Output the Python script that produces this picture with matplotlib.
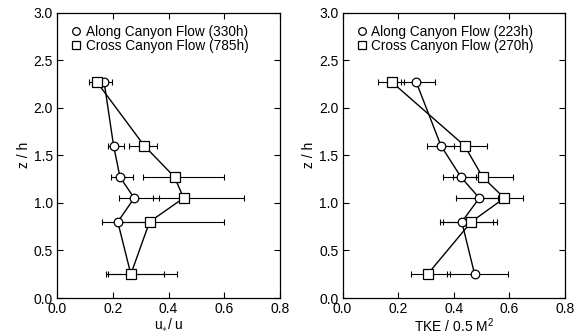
import matplotlib
matplotlib.use("Agg")
import matplotlib.pyplot as plt
import numpy as np

plt.rcParams['font.family'] = ['Liberation Sans', 'DejaVu Sans']
plt.rcParams['mathtext.fontset'] = 'custom'
plt.rcParams['mathtext.rm'] = 'Liberation Sans'
plt.rcParams['mathtext.it'] = 'Liberation Sans'

z = [0.25, 0.80, 1.05, 1.27, 1.60, 2.27]

# Left panel: u*/u
ustar_along = [0.265, 0.218, 0.277, 0.226, 0.203, 0.169]
ustar_along_lo = [0.184, 0.162, 0.224, 0.194, 0.182, 0.155]
ustar_along_hi = [0.385, 0.340, 0.367, 0.274, 0.241, 0.199]
ustar_cross = [0.265, 0.332, 0.454, 0.422, 0.313, 0.143]
ustar_cross_lo = [0.176, 0.220, 0.343, 0.307, 0.259, 0.115]
ustar_cross_hi = [0.432, 0.600, 0.670, 0.600, 0.360, 0.178]

# Right panel: TKE / 0.5 M^2
tke_along = [0.475, 0.429, 0.492, 0.426, 0.354, 0.265]
tke_along_lo = [0.377, 0.350, 0.408, 0.362, 0.305, 0.209]
tke_along_hi = [0.595, 0.540, 0.560, 0.480, 0.400, 0.334]
tke_cross = [0.306, 0.463, 0.582, 0.504, 0.439, 0.177]
tke_cross_lo = [0.245, 0.362, 0.480, 0.396, 0.360, 0.129]
tke_cross_hi = [0.386, 0.556, 0.650, 0.612, 0.520, 0.220]

labels_left = ["Along Canyon Flow (330h)", "Cross Canyon Flow (785h)"]
labels_right = ["Along Canyon Flow (223h)", "Cross Canyon Flow (270h)"]
xticks = [0.0, 0.2, 0.4, 0.6, 0.8]
yticks = [0.0, 0.5, 1.0, 1.5, 2.0, 2.5, 3.0]

fig = plt.figure(figsize=(5.75, 3.36), dpi=100)
ax1 = fig.add_axes([57/575, 38/336, 223/575, 285.5/336])
ax2 = fig.add_axes([342.5/575, 38/336, 222.5/575, 285.5/336])


def draw(ax, xa, xa_lo, xa_hi, xc, xc_lo, xc_hi, labels, xlabel):
    xa = np.array(xa); xc = np.array(xc)
    ea = [xa - np.array(xa_lo), np.array(xa_hi) - xa]
    ec = [xc - np.array(xc_lo), np.array(xc_hi) - xc]
    ax.errorbar(xa, z, xerr=ea, fmt='none', ecolor='black', elinewidth=0.8,
                capsize=2, capthick=0.8, zorder=2)
    ax.errorbar(xc, z, xerr=ec, fmt='none', ecolor='black', elinewidth=0.8,
                capsize=2, capthick=0.8, zorder=2)
    ax.plot(xa, z, '-', color='black', lw=1.0, zorder=3)
    ax.plot(xc, z, '-', color='black', lw=1.0, zorder=3)
    ax.plot(xa, z, 'o', mfc='white', mec='black', mew=0.9, ms=6.2, zorder=4)
    ax.plot(xc, z, 's', mfc='white', mec='black', mew=0.9, ms=7, zorder=5)
    ax.set_xlim(0, 0.8)
    ax.set_ylim(0, 3.0)
    ax.set_xticks(xticks)
    ax.set_xticklabels([f"{v:.1f}" for v in xticks])
    ax.set_yticks(yticks)
    ax.set_yticklabels([f"{v:.1f}" for v in yticks])
    ax.tick_params(direction='in', top=True, right=True, length=4, width=0.8,
                   labelsize=10, pad=3)
    for s in ax.spines.values():
        s.set_linewidth(0.9)
    ax.set_ylabel("z / h", fontsize=10, labelpad=2)
    ax.set_xlabel(xlabel, fontsize=10, labelpad=0)
    lh = [plt.Line2D([], [], ls='none', marker='o', mfc='white', mec='black', mew=0.9, ms=5.5),
          plt.Line2D([], [], ls='none', marker='s', mfc='white', mec='black', mew=0.9, ms=6)]
    ax.legend(lh, labels, loc='upper left', frameon=False, fontsize=9.8,
              handlelength=0.8, handletextpad=0.3, borderaxespad=0.3,
              labelspacing=0.0, bbox_to_anchor=(0.02, 0.99))


draw(ax1, ustar_along, ustar_along_lo, ustar_along_hi,
     ustar_cross, ustar_cross_lo, ustar_cross_hi, labels_left, r"u$_{\ast}$/ u")
draw(ax2, tke_along, tke_along_lo, tke_along_hi,
     tke_cross, tke_cross_lo, tke_cross_hi, labels_right, r"TKE / 0.5 M$^{2}$")

fig.savefig("out.png", dpi=100)
